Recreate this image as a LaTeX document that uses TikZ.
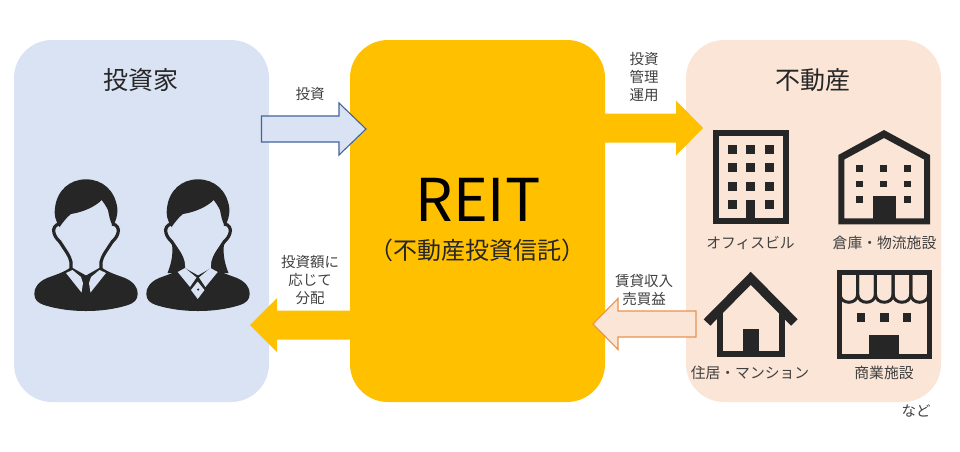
\documentclass[tikz,border=0pt]{standalone}
\usepackage{xcolor}
\usepackage{fontspec}
\setmainfont{Noto Sans CJK JP}
\usetikzlibrary{calc}
\definecolor{PaleBlue}{HTML}{DAE3F3}
\definecolor{PaleOrange}{HTML}{FBE5D6}
\definecolor{ReitYellow}{HTML}{FFC000}
\definecolor{LineBlue}{HTML}{44639C}
\definecolor{LineOrange}{HTML}{E8924F}
\definecolor{IconDark}{HTML}{262626}
\definecolor{TextGray}{HTML}{404040}

\begin{document}
\begin{tikzpicture}[
    x=1pt, y=-1pt,
    panel/.style={rounded corners=38pt, minimum width=255pt, minimum height=362pt, inner sep=0pt},
    heading/.style={font=\fontsize{25}{29}\selectfont, text=IconDark},
    smalllabel/.style={font=\fontsize{14.5}{17.8}\selectfont, text=TextGray, align=center},
    iconlabel/.style={font=\fontsize{14.8}{17}\selectfont, text=TextGray},
    blockarr/.style n args={3}{to path={let \p1=(\tikztostart), \p2=(\tikztotarget), \n1={(\x2>\x1)*2-1} in
        (\x1,\y1-#1pt) -- (\x2-\n1*#3pt,\y1-#1pt) -- (\x2-\n1*#3pt,\y1-#2pt) -- (\x2,\y2)
        -- (\x2-\n1*#3pt,\y1+#2pt) -- (\x2-\n1*#3pt,\y1+#1pt) -- (\x1,\y1+#1pt) -- cycle}},
    icon/.style={fill=IconDark, draw=none},
    iconline/.style={draw=IconDark, line width=3.2pt},
    iconhole/.style={fill=PaleBlue, draw=none}
]
\useasboundingbox (0,0) rectangle (960,451);

% three panels
\node[panel, fill=PaleBlue] (investor) at (141.5,221) {};
\node[panel, fill=ReitYellow] (reit) at (477.5,221) {};
\node[panel, fill=PaleOrange] (estate) at (813.5,221) {};

\node[heading] (investortitle) at (141,80) {投資家};
\node[heading] (estatetitle) at (813,80) {不動産};
\node[font=\fontsize{59}{64}\selectfont, text=black] (reitname) at (478,200) {REIT};
\node[font=\fontsize{24}{28}\selectfont, text=IconDark] (reitfull) at (477.5,250) {（不動産投資信託）};

% arrows between panels
\coordinate (investtail) at (261.5,129);
\coordinate (investtip) at (366,129);
\coordinate (managetip) at (703,128);
\coordinate (payouttip) at (250,325);
\coordinate (incometail) at (696,324);
\coordinate (incometip) at (593,324);
\path[blockarr={13}{26}{27}, fill=PaleBlue, draw=LineBlue, line width=1.1pt] (investtail) to (investtip);
\path[blockarr={14.5}{27.5}{27}, fill=ReitYellow] (reit.east |- managetip) to (managetip);
\path[blockarr={14.5}{27}{27}, fill=ReitYellow] (reit.west |- payouttip) to (payouttip);
\path[blockarr={13}{25.5}{25}, fill=PaleOrange, draw=LineOrange, line width=1.1pt] (incometail) to (incometip);

\node[smalllabel] (investlabel) at (310,94) {投資};
\node[smalllabel] (managelabel) at (644,77) {投資\\管理\\運用};
\node[smalllabel] (payoutlabel) at (310,280) {投資額に\\応じて\\分配};
\node[smalllabel] (incomelabel) at (644,290) {賃貸収入\\売買益};

% two people, same head and shoulders
\foreach \px in {0,112} {
  \begin{scope}[xshift=\px pt]
    \fill[icon] (59.5,227) .. controls (55,220) and (54,214) .. (55,208)
        .. controls (57,190) and (70,179.3) .. (86,179.3)
        .. controls (102,179.3) and (115,190) .. (117.3,208)
        .. controls (118,214) and (116,221) .. (113,226)
        .. controls (110,222) and (109,215) .. (108,210)
        .. controls (106,206) and (104,203) .. (101.7,200)
        .. controls (96,206) and (84,212) .. (71,214)
        .. controls (67,217) and (64,221) .. (59.5,227) -- cycle;
    \draw[iconline] (60,224) .. controls (55,224) and (52.5,229) .. (54,233)
        .. controls (55,237) and (58,240) .. (60,242)
        .. controls (65,250) and (70,256) .. (71,262) -- (71,270);
    \draw[iconline] (112,224) .. controls (117,224) and (119.5,229) .. (118,233)
        .. controls (117,237) and (114,240) .. (112,242)
        .. controls (107,250) and (102,256) .. (101,262) -- (101,270);
    \fill[icon] (71,267) .. controls (65,272) and (55,275) .. (47,278)
        .. controls (38,282) and (34,288) .. (34.3,294)
        .. controls (34.5,300) and (38,303) .. (44,305)
        .. controls (60,310) and (75,311) .. (86,311)
        .. controls (97,311) and (112,310) .. (128,305)
        .. controls (134,303) and (137.5,300) .. (137.7,294)
        .. controls (138,288) and (134,282) .. (125,278)
        .. controls (117,275) and (107,272) .. (101,267)
        -- (86,275.5) -- cycle;
  \end{scope}
}

% man: collar
\fill[iconhole] (66,273) -- (72.5,270) -- (81,277) -- (83,283) -- (81.5,292.5) -- cycle;
\fill[iconhole] (106,273) -- (99.5,270) -- (91,277) -- (89,283) -- (90.5,292.5) -- cycle;

% woman: long hair, collar and brooch
\fill[icon] (171,240) .. controls (174,250) and (172,262) .. (167.5,273) -- (185,273) -- (185,266)
    .. controls (184,256) and (178,248) .. (171,240) -- cycle;
\fill[icon] (225,240) .. controls (222,250) and (224,262) .. (228.5,273) -- (211,273) -- (211,266)
    .. controls (212,256) and (218,248) .. (225,240) -- cycle;
\fill[iconhole] (177.7,272) -- (185,268) -- (196.5,277.5) -- (190,287) -- cycle;
\fill[iconhole] (217.7,272) -- (210.4,268) -- (199,277.5) -- (205.4,287) -- cycle;
\fill[iconhole] (197.7,281.5) -- (204.5,290) -- (197.7,299) -- (191,290) -- cycle;
\fill[icon] (198.2,289.5) circle (1.2pt);

% office
\draw[draw=IconDark, line width=6pt] (715.7,133) rectangle (786,221.3);
\foreach \wx in {727.7,746.3,764.7} \foreach \wy in {145,163.3,181.7} {
  \fill[icon] (\wx,\wy) rectangle ++(9,9);
}
\fill[icon] (727.7,200) rectangle ++(9,9);
\fill[icon] (764.7,200) rectangle ++(9,9);
\fill[icon] (746.3,200) rectangle (755.3,224);
\node[iconlabel] (officelabel) at (750.5,243) {オフィスビル};

% warehouse
\fill[icon, even odd rule] (838.3,155) -- (884,130) -- (930,155) -- (930,224.3) -- (838.3,224.3) -- cycle
    (844.3,159.5) -- (884,138) -- (924,159.5) -- (924,218.3) -- (844.3,218.3) -- cycle;
\foreach \wx in {856,880.3,904.3} \foreach \wy in {165,180.7} {
  \fill[icon] (\wx,\wy) rectangle ++(6.7,6.7);
}
\fill[icon] (856,196.3) rectangle ++(6.7,6.7);
\fill[icon] (904.3,196.3) rectangle ++(6.7,6.7);
\fill[icon] (872.7,195.7) rectangle (896,224.3);
\node[iconlabel] (storagelabel) at (884.5,243) {倉庫・物流施設};

% house
\draw[draw=IconDark, line width=6pt] (719.7,312) |- (782,353.7) -- (782,312);
\draw[draw=IconDark, line width=9.2pt] (707,322.5) -- (750.7,278.3) -- (794.4,322.5);
\fill[icon] (742.7,329) rectangle (758.7,356.7);
\node[iconlabel] (houselabel) at (750,373) {住居・マンション};

% shop
\draw[draw=IconDark, line width=5pt] (839.8,272.5) rectangle (929.2,356.2);
\foreach \sx in {840,857.7,875.4,893.1,910.8} {
  \draw[draw=IconDark, line width=3pt] (\sx,275) -- (\sx,294)
      .. controls (\sx,305) and (\sx+17.7,305) .. (\sx+17.7,294) -- (\sx+17.7,275);
}
\foreach \wx in {856.7,880,902.7} {
  \fill[icon] (\wx,312.7) rectangle ++(8.7,9.3);
}
\fill[icon] (869.3,335) rectangle (899.3,358.7);
\node[iconlabel] (shoplabel) at (884,373) {商業施設};

\node[font=\fontsize{14.5}{17}\selectfont, text=TextGray] (etc) at (916,411) {など};
\end{tikzpicture}
\end{document}
